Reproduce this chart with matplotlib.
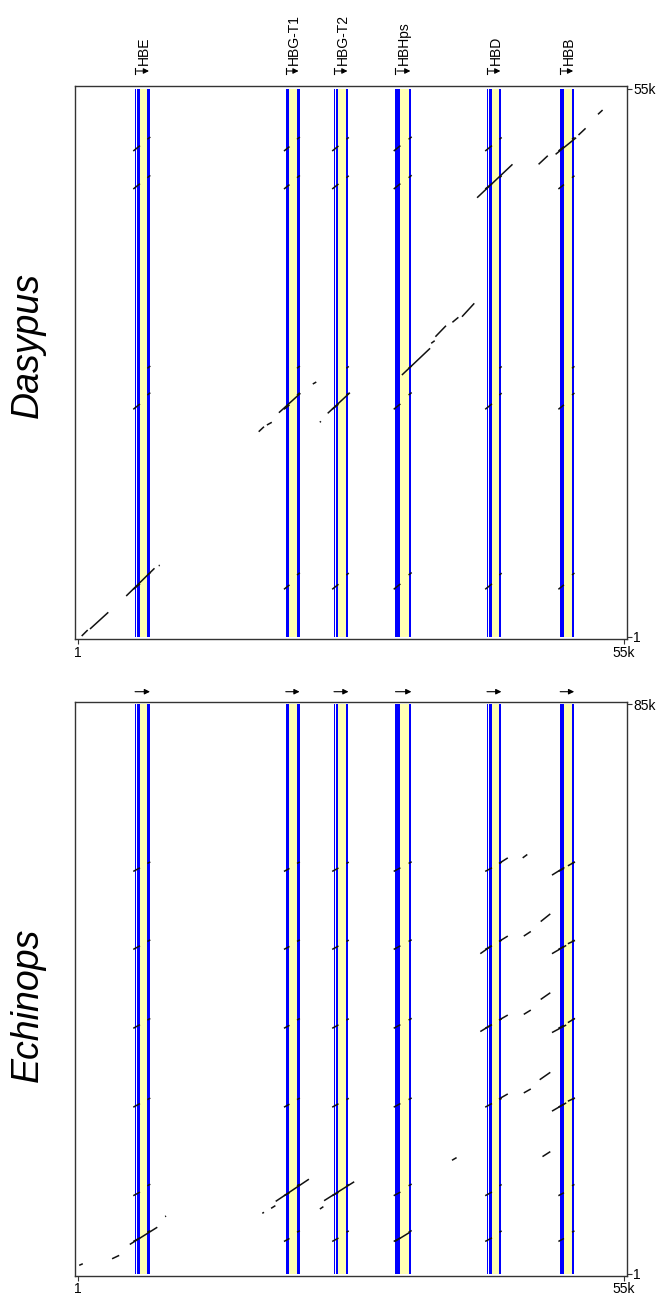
import matplotlib
matplotlib.use("Agg")
import matplotlib.pyplot as plt

plt.rcParams['font.family'] = ['Liberation Sans', 'DejaVu Sans']

# gene models on the reference (x) sequence, bp
gene_names = ["HBE", "HBG-T1", "HBG-T2", "HBHps", "HBD", "HBB"]
exon1 = [(5750, 5850), (20930, 21040), (25787, 25888), (31982, 32100), (41199, 41330), (48572, 48680)]
exon2 = [(5953, 6245), (21040, 21305), (25968, 26240), (32100, 32476), (41400, 41702), (48680, 48955)]
exon3 = [(6990, 7253), (22060, 22320), (27036, 27247), (33302, 33584), (42447, 42649), (49760, 49980)]
ref_len = 55000

species = ["Dasypus", "Echinops"]
seq_len = [55000, 85000]
len_labels = ["55k", "85k"]

# y position (bp) where exon1-2 hits / exon3 hits start, one entry per paralog row
dasy_left = [48725, 44911, None, 22802, 4737]
dasy_right = [49900, 46045, 26917, 24237, 6172]
echi_left = [60085, 48446, 36672, 24898, 11685, 4855]
echi_right = [61274, 49634, 37904, 26026, 13169, 6236]

# other alignment pieces (x0, x1, y0, y1)
dasy_segs = [
    (373, 977, 50, 652), (1209, 3052, 753, 2429), (4855, 7706, 4065, 6845),
    (8129, 8240, 7105, 7146), (18202, 18736, 20554, 21056), (19028, 19521, 21226, 21497),
    (20237, 22402, 22461, 24408), (23651, 24004, 25341, 25542), (24366, 24466, 21497, 21597),
    (25153, 27389, 22400, 24468), (32627, 35467, 26244, 28924), (35578, 35931, 29426, 29687),
    (36001, 37069, 30088, 31192), (37714, 38318, 31533, 32035), (38680, 39919, 32095, 33440),
    (40202, 43768, 44038, 47390), (46396, 47322, 47390, 48253), (48109, 50174, 48393, 50059),
    (50415, 51131, 50330, 51002), (52380, 52843, 52408, 52840),
]
echi_segs = [
    (121, 484, 1292, 1529), (3435, 4150, 2272, 2776), (5218, 7988, 4410, 6978),
    (8774, 8875, 8567, 8640), (31912, 33443, 4855, 6236), (18565, 18736, 9057, 9205),
    (19451, 19884, 9799, 10200), (19915, 23259, 10838, 14149), (24366, 24719, 9695, 10051),
    (24790, 27822, 10942, 13763), (37673, 38136, 16970, 17371), (46789, 47575, 17519, 18262),
    (42407, 43294, 26131, 26873), (44905, 45611, 27022, 27615), (46507, 47575, 28996, 30095),
    (47746, 49176, 24305, 25537), (49348, 50063, 25789, 26279),
    (40524, 41622, 36182, 37162), (42407, 43294, 37904, 38646), (44905, 45611, 38750, 39389),
    (46608, 47575, 40978, 41973), (47746, 49176, 36034, 37162), (49348, 50063, 37518, 38157),
    (40524, 41622, 47807, 48950), (42407, 43294, 49634, 50435), (44905, 45611, 50435, 51118),
    (46608, 47575, 52602, 53746), (47746, 49176, 47807, 49040), (49348, 50063, 49292, 49782),
    (42407, 43294, 61274, 62105), (44795, 45258, 62105, 62610), (47746, 48995, 59536, 60679),
    (49348, 50063, 60917, 61511),
]

TICK_SLOPE = 0.8
W, H = 661, 1298
fig = plt.figure(figsize=(W / 100, H / 100), dpi=100)

# frame boxes in pixels (left, top, right, bottom)
boxes = [(75, 86, 627, 639.3), (75, 702, 627, 1276)]
ylims = [(-280, 55251), (-300, 85371)]
label_y = [345, 1005]
rows = [(dasy_left, dasy_right, dasy_segs), (echi_left, echi_right, echi_segs)]

for p in range(2):
    l, t, r, b = boxes[p]
    ax = fig.add_axes([l / W, 1 - b / H, (r - l) / W, (b - t) / H])
    hpx = b - t
    length = seq_len[p]
    ax.set_xlim(-301, 55302)
    ax.set_ylim(*ylims[p])

    # gene bands
    for i in range(len(gene_names)):
        for (s, e) in (exon1[i], exon2[i], exon3[i]):
            ax.bar(s, length - 1, width=e - s, bottom=1, align='edge', color='#0000ff',
                   linewidth=0, antialiased=False, zorder=1)
        ax.bar(exon2[i][1], length - 1, width=exon3[i][0] - exon2[i][1], bottom=1, align='edge',
               color='#ffffb4', linewidth=0, antialiased=False, zorder=1)

    # paralog hits at each gene
    left, right, segs = rows[p]
    for yl, yr in zip(left, right):
        for i in range(len(gene_names)):
            if yl is not None:
                x0, x1 = exon1[i][0] - 180, exon2[i][1]
                ax.plot([x0, x1], [yl, yl + TICK_SLOPE * (x1 - x0)], color='#111111', lw=1.1,
                        solid_capstyle='butt', zorder=3)
            x0, x1 = exon3[i][0], exon3[i][1] + 30
            ax.plot([x0, x1], [yr, yr + TICK_SLOPE * (x1 - x0)], color='#111111', lw=1.1,
                    solid_capstyle='butt', zorder=3)
    for x0, x1, y0, y1 in segs:
        ax.plot([x0, x1], [y0, y1], color='#111111', lw=1.1, solid_capstyle='butt', zorder=3)

    # gene orientation arrows (and names on top panel)
    tr = ax.get_xaxis_transform()
    for i, name in enumerate(gene_names):
        if p == 0:
            ya = 1 + 15 / hpx
            ax.annotate('', xy=(exon3[i][1] - 100, ya), xytext=(exon1[i][0] + 150, ya),
                        xycoords=tr, textcoords=tr,
                        arrowprops=dict(arrowstyle='-|>', mutation_scale=8, lw=0.8, color='black',
                                        shrinkA=0, shrinkB=0))
            ax.plot([exon1[i][0], exon1[i][0]], [1 + 12 / hpx, 1 + 18 / hpx], transform=tr,
                    color='black', lw=0.8, clip_on=False)
            ax.annotate(name, xy=(exon1[i][0], 1 + 21 / hpx), xycoords=tr,
                        xytext=(1.0, 0), textcoords='offset points',
                        rotation=90, ha='left', va='bottom', fontsize=10)
        else:
            ya = 1 + 10.3 / hpx
            ax.annotate('', xy=(exon3[i][1], ya), xytext=(exon1[i][0], ya),
                        xycoords=tr, textcoords=tr,
                        arrowprops=dict(arrowstyle='-|>', mutation_scale=8, lw=0.8, color='black',
                                        shrinkA=0, shrinkB=0))

    ax.set_xticks([1, ref_len])
    ax.set_xticklabels(["1", "55k"])
    ax.yaxis.tick_right()
    ax.set_yticks([1, length])
    ax.set_yticklabels(["1", len_labels[p]])
    ax.tick_params(axis='x', direction='out', length=3.5, width=0.8, color='#333333', labelsize=10, pad=1)
    ax.tick_params(axis='y', direction='out', length=3.5, width=0.8, color='#333333', labelsize=10, pad=1)
    for sp in ax.spines.values():
        sp.set_color('#333333')
        sp.set_linewidth(1.0)

    fig.text(28 / W, 1 - label_y[p] / H, species[p], rotation=90, style='italic',
             fontsize=27, ha='center', va='center')

fig.savefig("out.png", dpi=100)
